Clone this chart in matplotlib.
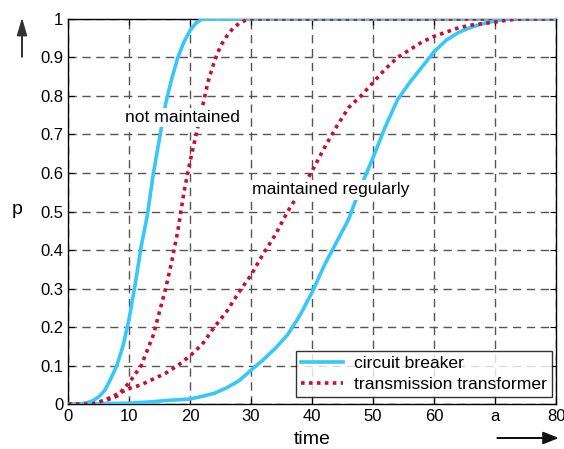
import matplotlib
matplotlib.use("Agg")
import matplotlib.pyplot as plt

plt.rcParams["font.family"] = ["Liberation Sans", "DejaVu Sans"]

# Failure probability curves
cb_nm_x = [0, 2, 3, 4, 5, 6, 7, 8, 9, 10, 11, 12, 13, 14, 15, 16, 17, 18, 19, 20, 21, 22, 80]
cb_nm_y = [0, 0, 0.003, 0.008, 0.018, 0.035, 0.065, 0.1, 0.15, 0.22, 0.31, 0.41, 0.49, 0.6,
           0.69, 0.78, 0.845, 0.9, 0.94, 0.97, 0.99, 1.0, 1.0]

tt_nm_x = [0, 4, 6, 8, 10, 12, 14, 15, 16, 17, 18, 19, 20, 21, 22, 23, 24, 25, 26, 27, 28, 29, 30, 80]
tt_nm_y = [0, 0, 0.008, 0.02, 0.055, 0.1, 0.18, 0.24, 0.3, 0.37, 0.45, 0.55, 0.63, 0.7, 0.77,
           0.84, 0.89, 0.93, 0.955, 0.975, 0.988, 0.996, 1.0, 1.0]

cb_mr_x = [0, 10, 14, 16, 18, 20, 22, 24, 26, 28, 30, 32, 34, 36, 38, 40, 42, 44, 46, 48, 50,
           52, 54, 56, 58, 60, 62, 64, 66, 68, 70, 72, 80]
cb_mr_y = [0, 0.002, 0.006, 0.009, 0.011, 0.013, 0.02, 0.028, 0.042, 0.06, 0.088, 0.115, 0.145,
           0.18, 0.23, 0.29, 0.36, 0.42, 0.48, 0.565, 0.64, 0.72, 0.79, 0.835, 0.875, 0.915,
           0.945, 0.965, 0.978, 0.988, 0.995, 1.0, 1.0]

tt_mr_x = [0, 4, 6, 8, 10, 12, 14, 16, 18, 20, 22, 24, 26, 28, 30, 32, 34, 36, 38, 40, 42, 44,
           46, 48, 50, 52, 54, 56, 58, 60, 62, 64, 66, 68, 70, 72, 74, 80]
tt_mr_y = [0, 0, 0.01, 0.025, 0.04, 0.05, 0.065, 0.08, 0.1, 0.125, 0.155, 0.2, 0.24, 0.29, 0.335,
           0.39, 0.44, 0.5, 0.55, 0.605, 0.665, 0.72, 0.77, 0.8, 0.835, 0.87, 0.9, 0.92, 0.94,
           0.955, 0.966, 0.977, 0.984, 0.988, 0.992, 0.997, 1.0, 1.0]

xticks = [0, 10, 20, 30, 40, 50, 60, 70, 80]
xtick_labels = ["0", "10", "20", "30", "40", "50", "60", "a", "80"]
yticks = [0, 0.1, 0.2, 0.3, 0.4, 0.5, 0.6, 0.7, 0.8, 0.9, 1]
ytick_labels = ["0", "0.1", "0.2", "0.3", "0.4", "0.5", "0.6", "0.7", "0.8", "0.9", "1"]

BLUE = "#36c8f6"
RED = "#c8102e"

fig = plt.figure(figsize=(5.64, 4.49), dpi=100)
ax = fig.add_axes([0.1206, 0.1002, 0.8654, 0.8575])

ax.plot(cb_nm_x, cb_nm_y, color=BLUE, lw=2.6, label="circuit breaker", zorder=3)
ax.plot(tt_nm_x, tt_nm_y, color=RED, lw=2.6, ls=(0, (1, 1.2)), label="transmission transformer", zorder=3)
ax.plot(cb_mr_x, cb_mr_y, color=BLUE, lw=2.6, zorder=3)
ax.plot(tt_mr_x, tt_mr_y, color=RED, lw=2.6, ls=(0, (1, 1.2)), zorder=3)

ax.set_xlim(0, 80)
ax.set_ylim(0, 1)
ax.set_xticks(xticks)
ax.set_xticklabels(xtick_labels)
ax.set_yticks(yticks)
ax.set_yticklabels(ytick_labels)
ax.tick_params(direction="in", top=True, right=True, labelsize=12, length=4, width=0.8)
ax.grid(True, ls=(0, (6, 4)), color="#555555", lw=1)
for s in ax.spines.values():
    s.set_linewidth(1)

ax.text(18.7, 0.745, "not maintained", ha="center", va="center", fontsize=12.6,
        bbox=dict(facecolor="white", edgecolor="none", pad=1.5), zorder=4)
ax.text(43.1, 0.556, "maintained regularly", ha="center", va="center", fontsize=12.6,
        bbox=dict(facecolor="white", edgecolor="none", pad=1.5), zorder=4)

leg = ax.legend(loc="lower right", fontsize=12.6, frameon=True, fancybox=False,
                handlelength=2.4, borderpad=0.3, labelspacing=0.3, handletextpad=0.6,
                borderaxespad=0, bbox_to_anchor=(0.992, 0.018))
leg.get_frame().set_edgecolor("black")
leg.get_frame().set_linewidth(1)

fig.text(17 / 564, 1 - 210 / 449, "p", fontsize=14, ha="center", va="center")
fig.text(312 / 564, 1 - 440 / 449, "time", fontsize=14, ha="center", va="center")
fig.patches.append(matplotlib.patches.FancyArrow(
    22 / 564, 1 - 57 / 449, 0, 37 / 449, width=0.001, head_width=0.016,
    head_length=0.035, length_includes_head=True, color="#333333", transform=fig.transFigure))
fig.patches.append(matplotlib.patches.FancyArrow(
    497 / 564, 1 - 438 / 449, 60 / 564, 0, width=0.001, head_width=0.025,
    head_length=0.025, length_includes_head=True, color="#111111", transform=fig.transFigure))

fig.savefig("out.png", dpi=100)
